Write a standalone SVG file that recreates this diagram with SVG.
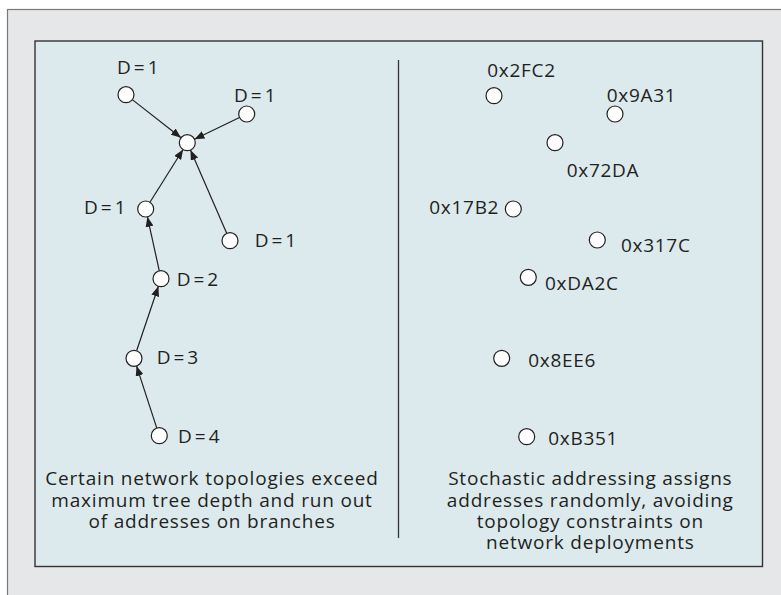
<svg xmlns="http://www.w3.org/2000/svg" width="781" height="595" viewBox="0 0 781 595">
<defs>
<style>
.node{fill:#ffffff;stroke:#231f20;stroke-width:1.2}
.lbl{font-family:"Open Sans","Noto Sans",sans-serif;font-size:19px;letter-spacing:0.7px;fill:#231f20}
.dl{letter-spacing:3px}
.cap{font-family:"Open Sans","Noto Sans",sans-serif;font-size:19px;letter-spacing:0.8px;fill:#231f20;text-anchor:middle}
.edge{stroke:#231f20;stroke-width:1.2;fill:none;marker-end:url(#arr)}
</style>
<marker id="arr" markerUnits="userSpaceOnUse" markerWidth="10" markerHeight="8" refX="10" refY="4" orient="auto">
<path d="M0,0 L10,4 L0,8 z" fill="#231f20"/>
</marker>
</defs>
<rect x="7.5" y="9.5" width="780" height="600" fill="#e6e7e8" stroke="#7a7a7a" stroke-width="1.2"/>
<rect x="35" y="41" width="727.5" height="525.5" fill="#dceaee" stroke="#333333" stroke-width="1.4"/>
<line x1="398.5" y1="60" x2="398.5" y2="538" stroke="#333333" stroke-width="1.3"/>
<g id="connectors">
<line class="edge" x1="132.3" y1="99.6" x2="181.0" y2="137.8"/>
<line class="edge" x1="239.5" y1="117.5" x2="194.5" y2="139.2"/>
<line class="edge" x1="149.95" y1="202.2" x2="183.05" y2="149.5"/>
<line class="edge" x1="226.8" y1="233.4" x2="190.5" y2="150.0"/>
<line class="edge" x1="159.3" y1="270.9" x2="147.4" y2="216.8"/>
<line class="edge" x1="136.6" y1="350.7" x2="158.4" y2="286.3"/>
<line class="edge" x1="156.8" y1="428.1" x2="136.5" y2="365.9"/>
</g>
<g id="root"><circle class="node" cx="187.3" cy="142.7" r="8"/></g>
<g id="n-tl"><circle class="node" cx="126" cy="94.7" r="8"/><text class="lbl dl" x="117" y="73.5">D=1</text></g>
<g id="n-tr"><circle class="node" cx="246.7" cy="114" r="8"/><text class="lbl dl" x="234" y="101.7">D=1</text></g>
<g id="n-ml"><circle class="node" cx="145.7" cy="209" r="8"/><text class="lbl dl" x="84" y="214">D=1</text></g>
<g id="n-r"><circle class="node" cx="230" cy="240.7" r="8"/><text class="lbl dl" x="254.7" y="246.5">D=1</text></g>
<g id="n-d2"><circle class="node" cx="161" cy="278.7" r="8"/><text class="lbl dl" x="176.7" y="285.7">D=2</text></g>
<g id="n-d3"><circle class="node" cx="134" cy="358.3" r="8"/><text class="lbl dl" x="156.7" y="363.5">D=3</text></g>
<g id="n-d4"><circle class="node" cx="159.3" cy="435.7" r="8"/><text class="lbl dl" x="178" y="442.7">D=4</text></g>
<g id="a-2fc2"><circle class="node" cx="494" cy="95.7" r="8"/><text class="lbl" x="487.3" y="76.7">0x2FC2</text></g>
<g id="a-9a31"><circle class="node" cx="615" cy="114" r="8"/><text class="lbl" x="606.7" y="101.7">0x9A31</text></g>
<g id="a-72da"><circle class="node" cx="555" cy="142.7" r="8"/><text class="lbl" x="566.7" y="176.7">0x72DA</text></g>
<g id="a-17b2"><circle class="node" cx="513.3" cy="209" r="8"/><text class="lbl" x="429.3" y="214">0x17B2</text></g>
<g id="a-317c"><circle class="node" cx="597.3" cy="240" r="8"/><text class="lbl" x="621" y="251.7">0x317C</text></g>
<g id="a-da2c"><circle class="node" cx="528.3" cy="277.3" r="8"/><text class="lbl" x="545" y="290">0xDA2C</text></g>
<g id="a-8ee6"><circle class="node" cx="501.7" cy="358.3" r="8"/><text class="lbl" x="528.3" y="366.7">0x8EE6</text></g>
<g id="a-b351"><circle class="node" cx="526.7" cy="436.7" r="8"/><text class="lbl" x="548.3" y="445">0xB351</text></g>
<g id="caption-left">
<text class="cap" x="212" y="485">Certain network topologies exceed</text>
<text class="cap" x="212" y="506.7">maximum tree depth and run out</text>
<text class="cap" x="212" y="527.7">of addresses on branches</text>
</g>
<g id="caption-right">
<text class="cap" x="590.3" y="485">Stochastic addressing assigns</text>
<text class="cap" x="590.3" y="506.7">addresses randomly, avoiding</text>
<text class="cap" x="590.3" y="527.7">topology constraints on</text>
<text class="cap" x="590.3" y="549.3">network deployments</text>
</g>
</svg>
